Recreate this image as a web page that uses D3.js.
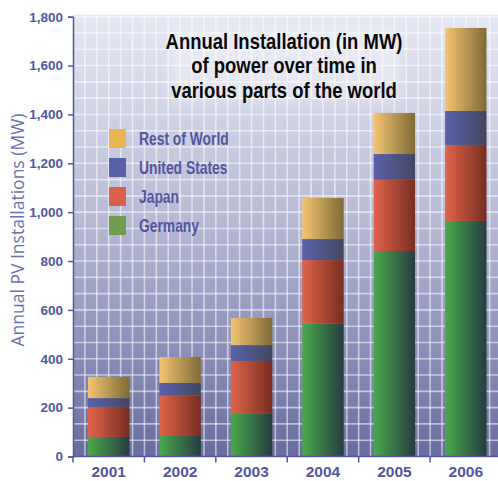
<!DOCTYPE html>
<html>
<head>
<meta charset="utf-8">
<script src="https://cdn.jsdelivr.net/npm/d3@7"></script>
<style>
  html, body { margin: 0; padding: 0; background: #ffffff; }
  svg { display: block; }
</style>
</head>
<body>
<svg id="chart" width="498" height="481"></svg>
<script>
// Annual PV installations (MW) by region, 2001-2006
const years = ["2001", "2002", "2003", "2004", "2005", "2006"];
const regions = ["Germany", "Japan", "United States", "Rest of World"];
const germany = [80, 84, 175, 545, 841, 964];
const japan = [123, 165, 216, 259, 291, 311];
const unitedStates = [36, 52, 65, 86, 106, 139];
const restOfWorld = [87, 106, 111, 168, 168, 340];
const yTicks = [0, 200, 400, 600, 800, 1000, 1200, 1400, 1600, 1800];
const titleLines = ["Annual Installation (in MW)", "of power over time in", "various parts of the world"];
const legendOrder = ["Rest of World", "United States", "Japan", "Germany"];

const seriesValues = {
  "Germany": germany,
  "Japan": japan,
  "United States": unitedStates,
  "Rest of World": restOfWorld
};

// bar shading (light left edge -> dark right edge) and flat legend swatches
const shade = {
  "Germany": ["#4aa94b", "#263c41"],
  "Japan": ["#e0644b", "#782d20"],
  "United States": ["#5a62ab", "#43465f"],
  "Rest of World": ["#f4c572", "#7f6a36"]
};
const swatch = {
  "Germany": "#6f9c4e",
  "Japan": "#d9604a",
  "United States": "#5961a6",
  "Rest of World": "#e8b553"
};

const rows = years.map((yr, i) => {
  const r = { year: yr };
  regions.forEach(k => { r[k] = seriesValues[k][i]; });
  return r;
});
const stacked = d3.stack().keys(regions)(rows);

const svg = d3.select("#chart");
const plotLeft = 73, plotRight = 501.5, plotTop = 16.7, plotBottom = 456.5;
const boldFont = "'Liberation Sans', Arial, sans-serif";

const x = d3.scaleBand().domain(years).range([plotLeft, plotRight])
  .paddingInner(0.42).paddingOuter(0.21);
const y = d3.scaleLinear().domain([0, 1800]).range([plotBottom, plotTop]);

const defs = svg.append("defs");
const bg = defs.append("linearGradient").attr("id", "bgGrad")
  .attr("x1", 0).attr("y1", 0).attr("x2", 0).attr("y2", 1);
bg.append("stop").attr("offset", "0%").attr("stop-color", "#e6e8f4");
bg.append("stop").attr("offset", "45%").attr("stop-color", "#b9bbd6");
bg.append("stop").attr("offset", "100%").attr("stop-color", "#686c9e");

regions.forEach((k, i) => {
  const g = defs.append("linearGradient").attr("id", "bar" + i)
    .attr("x1", 0).attr("y1", 0).attr("x2", 1).attr("y2", 0);
  g.append("stop").attr("offset", "0%").attr("stop-color", shade[k][0]);
  g.append("stop").attr("offset", "100%").attr("stop-color", shade[k][1]);
});

const glow = defs.append("filter").attr("id", "glow")
  .attr("x", "-20%").attr("y", "-40%").attr("width", "140%").attr("height", "180%");
glow.append("feGaussianBlur").attr("stdDeviation", 6);

// plot background
svg.append("rect")
  .attr("x", plotLeft).attr("y", plotTop - 2)
  .attr("width", 498 - plotLeft).attr("height", plotBottom - plotTop + 2)
  .attr("fill", "url(#bgGrad)");

// grid: six columns per year band, three rows per 200 MW
const grid = svg.append("g").attr("stroke", "#ffffff").attr("stroke-opacity", 0.55).attr("stroke-width", 1.6);
const step = x.step();
const x0 = x(years[0]) - x.paddingOuter() * step;
d3.range(1, 37).forEach(j => {
  const gx = x0 + j * step / 6;
  if (gx < 498) grid.append("line").attr("x1", gx).attr("x2", gx).attr("y1", plotTop - 2).attr("y2", plotBottom);
});
d3.range(1, 28).forEach(j => {
  const gy = y(j * 200 / 3);
  grid.append("line").attr("x1", plotLeft).attr("x2", 498).attr("y1", gy).attr("y2", gy);
});

// title with a soft light halo, set in a condensed bold face
const title = svg.append("g");
title.append("rect").attr("x", 170).attr("y", 30).attr("width", 230).attr("height", 72)
  .attr("fill", "#ffffff").attr("opacity", 0.35).attr("filter", "url(#glow)");
title.selectAll("text.t").data(titleLines).join("text")
  .attr("class", "t")
  .attr("transform", (d, i) => `translate(284,${48.5 + i * 24.5}) scale(0.84,1)`)
  .attr("text-anchor", "middle")
  .attr("font-family", boldFont)
  .attr("font-weight", "bold").attr("font-size", 22)
  .attr("fill", "#0a0a0a")
  .text(d => d);

// stacked bars
svg.append("g").selectAll("g").data(stacked).join("g")
  .attr("fill", (d, i) => `url(#bar${i})`)
  .selectAll("rect").data(d => d).join("rect")
  .attr("x", d => x(d.data.year))
  .attr("width", x.bandwidth())
  .attr("y", d => y(d[1]))
  .attr("height", d => y(d[0]) - y(d[1]));

// legend
const legend = svg.append("g");
legendOrder.forEach((k, i) => {
  const ly = 129 + i * 29;
  legend.append("rect").attr("x", 109).attr("y", ly).attr("width", 17).attr("height", 19)
    .attr("fill", swatch[k]);
  legend.append("text")
    .attr("transform", `translate(139,${ly + 16}) scale(0.77,1)`)
    .attr("font-family", boldFont)
    .attr("font-weight", "bold").attr("font-size", 18)
    .attr("fill", "#5257a0").text(k);
});

// axes
const axisColor = "#5257a0";
const yAxis = svg.append("g").attr("transform", `translate(${plotLeft},0)`)
  .call(d3.axisLeft(y).tickValues(yTicks).tickFormat(d3.format(",")).tickSize(5).tickPadding(5));
const xAxis = svg.append("g").attr("transform", `translate(0,${plotBottom})`)
  .call(d3.axisBottom(x).tickSize(0).tickPadding(9.5));
[yAxis, xAxis].forEach(a => {
  a.select(".domain").attr("stroke", axisColor).attr("stroke-width", 1.5);
  a.selectAll(".tick line").attr("stroke", axisColor).attr("stroke-width", 1.5);
});
yAxis.selectAll(".tick text")
  .attr("fill", axisColor).attr("font-weight", "bold").attr("font-size", 13.5)
  .attr("font-family", boldFont);
xAxis.select(".domain").attr("d", `M${plotLeft},0H498`);
xAxis.selectAll(".tick text")
  .attr("fill", axisColor).attr("font-weight", "bold").attr("font-size", 15.5)
  .attr("font-family", boldFont);
// band separators on the x axis
xAxis.selectAll("line.sep").data(years).join("line").attr("class", "sep")
  .attr("x1", d => x(d) - x.paddingInner() * step / 2)
  .attr("x2", d => x(d) - x.paddingInner() * step / 2)
  .attr("y1", 0).attr("y2", 6)
  .attr("stroke", axisColor).attr("stroke-width", 1.5);

// y-axis title
svg.append("text")
  .attr("transform", "translate(24,230) rotate(-90)")
  .attr("text-anchor", "middle")
  .attr("font-family", "'Open Sans', sans-serif")
  .attr("font-size", 17.5)
  .attr("fill", "#6c71b1")
  .text("Annual PV Installations (MW)");
</script>
</body>
</html>
